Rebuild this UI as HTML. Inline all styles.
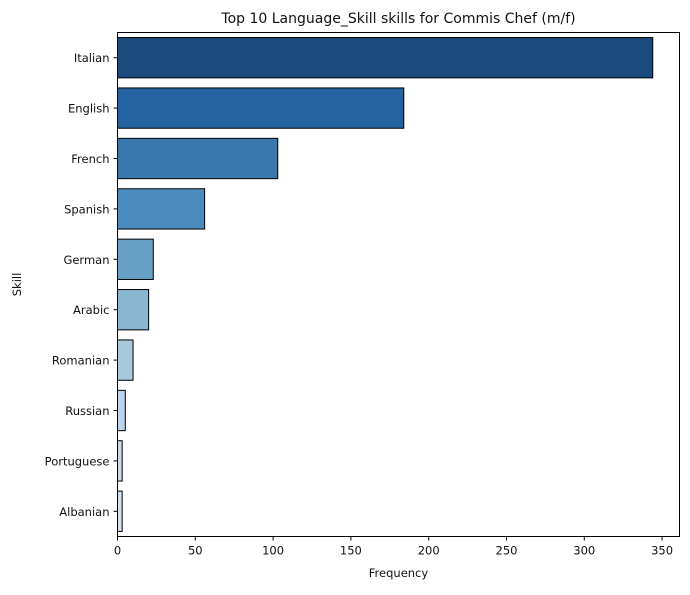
<!DOCTYPE html>
<html><head><meta charset="utf-8"><style>
body{margin:0;background:#fff;font-family:"Liberation Sans","DejaVu Sans",sans-serif;}
svg text{font-family:"DejaVu Sans","Liberation Sans",sans-serif;fill:#111;}
</style></head><body>
<svg id="chart" width="690" height="590" viewBox="0 0 690 590" xmlns="http://www.w3.org/2000/svg"></svg>
<script>
const categories = ["Italian","English","French","Spanish","German","Arabic","Romanian","Russian","Portuguese","Albanian"];
const values = [344,184,103,56,23,20,10,5,3,3];
const colors = ["#1b4a7e","#2563a0","#3a77ac","#4b8bbd","#68a0c6","#89b6d1","#a8c9dd","#bdd5e8","#c9dbed","#d3e2f1"];
const xTicks = [0,50,100,150,200,250,300,350];

const NS="http://www.w3.org/2000/svg";
const svg=document.getElementById('chart');
const L=117.5,R=679.5,T=32.5,B=536.5;
const xMax=Math.max(...values)*1.05;
const x=v=>L+v/xMax*(R-L);
const step=(B-T)/categories.length;
const yc=i=>T+step*(i+0.5);
function mk(tag,attrs,parent){const e=document.createElementNS(NS,tag);for(const k in attrs)e.setAttribute(k,attrs[k]);(parent||svg).appendChild(e);return e;}

const title=mk('text',{x:(L+R)/2,y:23,'text-anchor':'middle','font-size':14});
title.textContent="Top 10 Language_Skill skills for Commis Chef (m/f)";



categories.forEach((c,i)=>{
  const r=mk('rect',{x:x(0),y:yc(i)-step*0.4,width:x(values[i])-x(0),height:step*0.8,fill:colors[i],stroke:'#000','stroke-width':1});
  
  
  mk('line',{x1:L-4,x2:L,y1:yc(i),y2:yc(i),stroke:'#000'});
  const t=mk('text',{x:L-8,y:yc(i)+4.5,'text-anchor':'end','font-size':11.5});
  t.textContent=c;
  
  
});
xTicks.forEach(v=>{
  mk('line',{x1:x(v),x2:x(v),y1:B,y2:B+4,stroke:'#000'});
  const t=mk('text',{x:x(v),y:B+18,'text-anchor':'middle','font-size':11.5});
  t.textContent=v;
  
  
});
const frame=mk('rect',{x:L,y:T,width:R-L,height:B-T,fill:'none',stroke:'#000','stroke-width':1});


const xl=mk('text',{x:(L+R)/2,y:577,'text-anchor':'middle','font-size':11.5});
xl.textContent="Frequency";


const yl=mk('text',{x:0,y:0,'text-anchor':'middle','font-size':11.5,transform:`translate(21,${(T+B)/2}) rotate(-90)`});
yl.textContent="Skill";


</script>
</body></html>
